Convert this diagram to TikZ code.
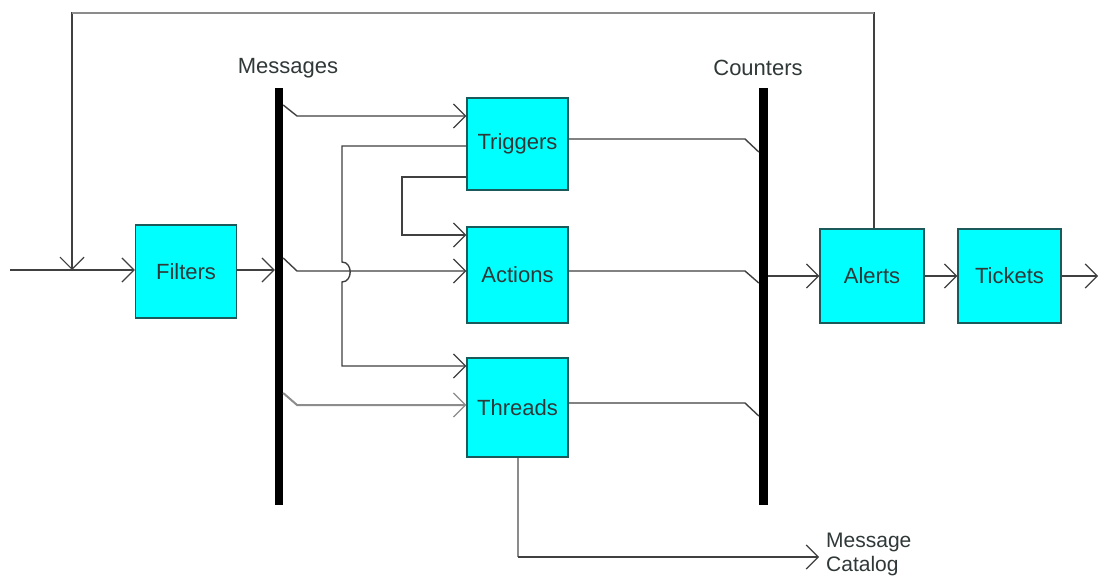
\documentclass[tikz,border=0pt]{standalone}
\usepackage{fontspec}
\setmainfont{Liberation Sans}
\usetikzlibrary{arrows.meta,calc}
\definecolor{boxfill}{HTML}{00FFFF}
\definecolor{boxline}{HTML}{1A5A5A}
\definecolor{ln}{HTML}{404040}
\definecolor{lnlight}{HTML}{8C8C8C}
\definecolor{txt}{HTML}{303838}
\begin{document}
\begin{tikzpicture}[x=1pt,y=-1pt,
 blk/.style={draw=boxline, fill=boxfill, line width=1.5pt, minimum width=101pt, minimum height=93pt, inner sep=0pt, font=\fontsize{22}{26}\selectfont, text=txt},
 bar/.style={fill=black, inner sep=0pt, minimum width=8pt, minimum height=417pt},
 wire/.style={draw=ln, line width=1.4pt},
 wirel/.style={draw=lnlight, line width=2pt},
 arr/.style={-{Straight Barb[length=12pt,width=24pt,line width=1.2pt]}},
 lbl/.style={font=\fontsize{22}{27}\selectfont, text=txt, inner sep=0pt}]
\useasboundingbox (0,0) rectangle (1100,580);
\fill[white] (0,0) rectangle (1100,580);
% nodes
\node[blk] (filters) at (186,271.5) {Filters};
\node[blk, minimum height=92pt] (triggers) at (517.5,144) {Triggers};
\node[blk, minimum height=96pt] (actions) at (517.5,275) {Actions};
\node[blk, minimum height=99pt] (threads) at (517.5,407.5) {Threads};
\node[blk, minimum width=104pt, minimum height=94pt] (alerts) at (872,276) {Alerts};
\node[blk, minimum width=103pt, minimum height=94pt] (tickets) at (1009.5,276) {Tickets};
\node[bar] (msgbar) at (279,296.5) {};
\node[bar, minimum width=9pt] (cntbar) at (763.5,296.5) {};
\node[lbl] (msglbl) at (288,68) {Messages};
\node[lbl] (cntlbl) at (758,68) {Counters};
\node[lbl, font=\fontsize{21}{24}\selectfont, align=left, anchor=west] (catlbl) at (826,554) {Message\\Catalog};
% coordinates
\coordinate (in) at (10,270);
\coordinate (j) at (72,270);
\coordinate (loopTL) at (72,13);
\coordinate (loopTR) at (874,13);
\coordinate (out) at (1098,276);
\coordinate (cat) at (819,557);
% connectors
\draw[wire] (in) -- (j);
\draw[wire, arr] (j) -- (filters.west |- j);
\draw[wire, arr] (filters.east |- j) -- (msgbar.west |- j);
\draw[wire, arr] (alerts.north -| loopTR) -- (loopTR) -- (loopTL) -- (j);
\draw[draw=lnlight, line width=1.5pt] (loopTR) -- (loopTL);
\draw[wire, arr] (msgbar.east |- 0,105) -- (297,116) -- (triggers.west |- 0,116);
\draw[wire, arr] (msgbar.east |- 0,258) -- (297,271) -- (actions.west |- 0,271);
\draw[wirel, arr] (msgbar.east |- 0,393) -- (297,405) -- (threads.west |- 0,405);
\draw[wire, arr] (triggers.west |- 0,146) -- (342,146) -- (342,262) to[out=0,in=0,looseness=1.4] (342,282) -- (342,366) -- (threads.west |- 0,366);
\draw[wire, arr] (triggers.west |- 0,177) -- (402,177) -- (402,235) -- (actions.west |- 0,235);
\draw[wire] (triggers.east |- 0,139) -- (745,139) -- (cntbar.west |- 0,152);
\draw[wire] (actions.east |- 0,271) -- (745,271) -- (cntbar.west |- 0,283);
\draw[wire] (threads.east |- 0,403) -- (745,403) -- (cntbar.west |- 0,416);
\draw[wire, arr] (cntbar.east |- 0,276) -- (alerts.west);
\draw[wire, arr] (alerts.east) -- (tickets.west);
\draw[wire, arr] (tickets.east) -- (out);
\draw[wirel] (threads.south) -- (threads.south |- cat);
\draw[wire, arr] (threads.south |- cat) -- (cat);
\end{tikzpicture}
\end{document}
